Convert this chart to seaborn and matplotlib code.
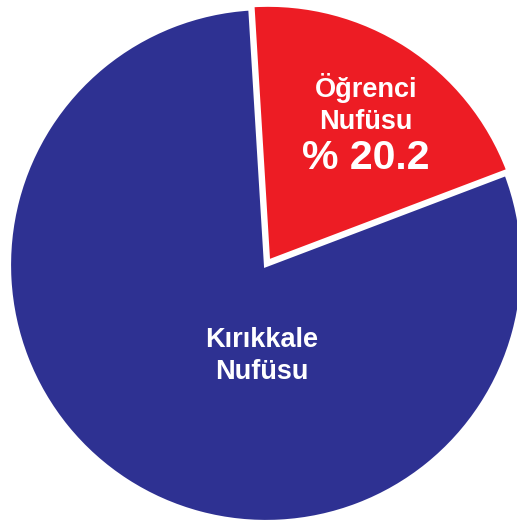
import matplotlib
matplotlib.use("Agg")
import matplotlib.pyplot as plt
import seaborn as sns

labels = ["Öğrenci Nufüsu", "Kırıkkale Nufüsu"]
values = [20.2, 79.8]
colors = ["#ED1C24", "#2E3192"]
explode = [0.015, 0.0]

sns.set_style("white")
plt.rcParams["font.family"] = ["Liberation Sans", "DejaVu Sans"]

fig = plt.figure(figsize=(5.17, 5.20), dpi=100)
# pie centre ~ (266, 265) px, radius ~257 px
W, H = 517, 520
cx, cy, r = 266, 265, 257
ax = fig.add_axes([(cx - r) / W, (H - cy - r) / H, 2 * r / W, 2 * r / H])
ax.pie(values, colors=colors, explode=explode, startangle=93.5, counterclock=False,
       wedgeprops=dict(edgecolor="white", linewidth=3))
ax.set_xlim(-1, 1)
ax.set_ylim(-1, 1)
ax.set_aspect("auto")
ax.axis("off")


def px(x, y):
    return (x - cx) / r, (cy - y) / r


ax.text(*px(366, 104), "Öğrenci\nNufüsu", color="white", fontsize=19.5, fontweight="bold",
        ha="center", va="center", linespacing=1.3)
ax.text(*px(366, 158), "% 20.2", color="white", fontsize=29.5, fontweight="bold",
        ha="center", va="center")
ax.text(*px(262, 356), "Kırıkkale\nNufüsu", color="white", fontsize=19.5, fontweight="bold",
        ha="center", va="center", linespacing=1.3)

fig.savefig("out.png", dpi=100)
